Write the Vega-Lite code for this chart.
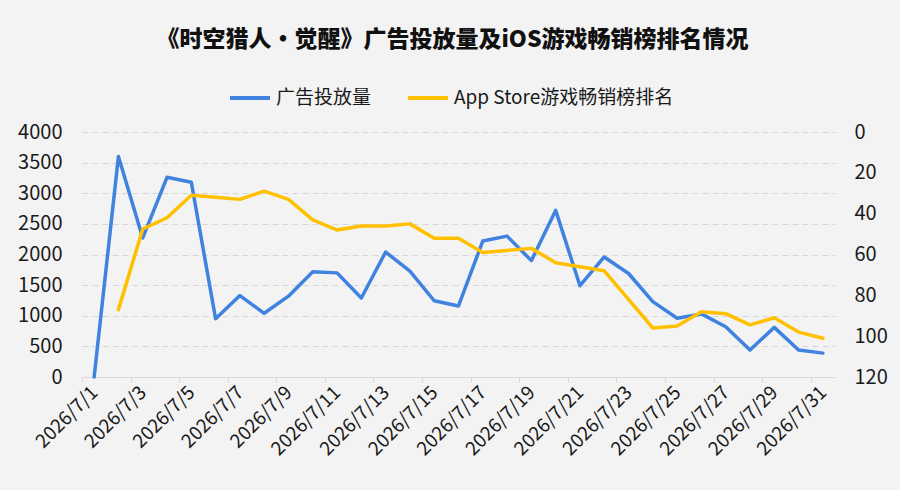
{
  "$schema": "https://vega.github.io/schema/vega-lite/v6.json",
  "width": 753,
  "height": 245,
  "autosize": {"type": "none"},
  "padding": {"left": 82, "top": 132, "right": 65, "bottom": 113},
  "background": "#f3f3f3",
  "config": {
    "view": {"stroke": null},
    "font": "Noto Sans CJK SC"
  },
  "title": {
    "text": "《时空猎人·觉醒》广告投放量及iOS游戏畅销榜排名情况",
    "font": "Noto Sans CJK SC",
    "fontSize": 23,
    "fontWeight": 900,
    "color": "#111111",
    "anchor": "middle",
    "dx": -6,
    "offset": 24
  },
  "data": {
    "values": [
      {"date": "2026/7/1", "ad": 0, "rank": null},
      {"date": "2026/7/2", "ad": 3600, "rank": 87},
      {"date": "2026/7/3", "ad": 2270, "rank": 47.5},
      {"date": "2026/7/4", "ad": 3260, "rank": 42},
      {"date": "2026/7/5", "ad": 3180, "rank": 31},
      {"date": "2026/7/6", "ad": 950, "rank": 32},
      {"date": "2026/7/7", "ad": 1330, "rank": 33},
      {"date": "2026/7/8", "ad": 1040, "rank": 29},
      {"date": "2026/7/9", "ad": 1320, "rank": 33},
      {"date": "2026/7/10", "ad": 1720, "rank": 43},
      {"date": "2026/7/11", "ad": 1700, "rank": 48},
      {"date": "2026/7/12", "ad": 1290, "rank": 46},
      {"date": "2026/7/13", "ad": 2040, "rank": 46},
      {"date": "2026/7/14", "ad": 1730, "rank": 45},
      {"date": "2026/7/15", "ad": 1245, "rank": 52},
      {"date": "2026/7/16", "ad": 1160, "rank": 52},
      {"date": "2026/7/17", "ad": 2220, "rank": 59},
      {"date": "2026/7/18", "ad": 2300, "rank": 58},
      {"date": "2026/7/19", "ad": 1900, "rank": 57},
      {"date": "2026/7/20", "ad": 2720, "rank": 64},
      {"date": "2026/7/21", "ad": 1490, "rank": 66},
      {"date": "2026/7/22", "ad": 1960, "rank": 68},
      {"date": "2026/7/23", "ad": 1690, "rank": 82},
      {"date": "2026/7/24", "ad": 1230, "rank": 96},
      {"date": "2026/7/25", "ad": 960, "rank": 95},
      {"date": "2026/7/26", "ad": 1030, "rank": 88},
      {"date": "2026/7/27", "ad": 820, "rank": 89},
      {"date": "2026/7/28", "ad": 440, "rank": 94.5},
      {"date": "2026/7/29", "ad": 810, "rank": 91},
      {"date": "2026/7/30", "ad": 440, "rank": 98},
      {"date": "2026/7/31", "ad": 390, "rank": 101}
    ]
  },
  "encoding": {
    "x": {
      "field": "date",
      "type": "ordinal",
      "sort": null,
      "scale": {"type": "point", "padding": 0.5},
      "axis": {
        "title": null,
        "values": ["2026/7/1", "2026/7/3", "2026/7/5", "2026/7/7", "2026/7/9", "2026/7/11", "2026/7/13", "2026/7/15", "2026/7/17", "2026/7/19", "2026/7/21", "2026/7/23", "2026/7/25", "2026/7/27", "2026/7/29", "2026/7/31"],
        "grid": false,
        "domainColor": "#d9d9d9",
        "domainWidth": 1,
        "tickColor": "#d9d9d9",
        "tickSize": 5,
        "tickOffset": -12.15,
        "labelOffset": 12.15,
        "labelAngle": -45,
        "labelAlign": "right",
        "labelBaseline": "middle",
        "labelFontSize": 19,
        "labelColor": "#1a1a1a",
        "labelPadding": 7,
        "labelOverlap": false,
        "labelFlush": false
      }
    }
  },
  "layer": [
    {
      "mark": {"type": "line", "strokeWidth": 3.5, "strokeJoin": "round", "strokeCap": "round"},
      "encoding": {
        "y": {
          "field": "ad",
          "type": "quantitative",
          "scale": {"domain": [0, 4000]},
          "axis": {
            "title": null,
            "format": "d",
            "values": [0, 500, 1000, 1500, 2000, 2500, 3000, 3500, 4000],
            "domain": false,
            "ticks": false,
            "grid": true,
            "gridColor": "#d6d6d6",
            "gridDash": [6, 4],
            "gridWidth": 1,
            "labelFontSize": 20,
            "labelColor": "#1a1a1a",
            "labelPadding": 20
          }
        },
        "color": {
          "datum": "广告投放量",
          "type": "nominal",
          "scale": {
            "domain": ["广告投放量", "App Store游戏畅销榜排名"],
            "range": ["#3f82e0", "#ffc000"]
          },
          "legend": {
            "title": null,
            "orient": "none",
            "direction": "horizontal",
            "legendX": 146,
            "legendY": -56,
            "symbolType": "stroke",
            "symbolSize": 1600,
            "symbolStrokeWidth": 4,
            "labelFontSize": 19,
            "labelLimit": 400,
            "labelColor": "#1a1a1a",
            "labelOffset": 4,
            "columnPadding": 28
          }
        }
      }
    },
    {
      "mark": {"type": "line", "strokeWidth": 3.5, "strokeJoin": "round", "strokeCap": "round"},
      "encoding": {
        "y": {
          "field": "rank",
          "type": "quantitative",
          "scale": {"domain": [0, 120], "reverse": true},
          "axis": {
            "title": null,
            "orient": "right",
            "values": [0, 20, 40, 60, 80, 100, 120],
            "domain": false,
            "ticks": false,
            "grid": false,
            "labelFontSize": 20,
            "labelColor": "#1a1a1a",
            "labelPadding": 19
          }
        },
        "color": {"datum": "App Store游戏畅销榜排名", "type": "nominal"}
      }
    }
  ],
  "resolve": {"scale": {"y": "independent"}}
}
